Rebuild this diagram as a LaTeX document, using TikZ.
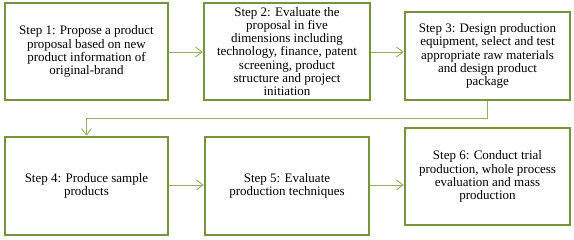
\documentclass[tikz,border=0pt]{standalone}
\usepackage{fontspec}
\setmainfont{Liberation Serif}
\usetikzlibrary{arrows.meta}
\definecolor{boxgreen}{HTML}{77933C}
\definecolor{linegreen}{HTML}{93B05F}
\tikzset{
  stepbox/.style={draw=boxgreen, line width=2.5pt, fill=white, align=center,
    inner sep=0pt, font=\fontsize{13}{13.2}\selectfont},
  conn/.style={draw=linegreen, line width=0.9pt,
    -{Straight Barb[length=6.5pt,width=10pt,line width=0.9pt]}},
}
\begin{document}
\begin{tikzpicture}[x=1pt,y=1pt]
\useasboundingbox (0,0) rectangle (574,-240);
\node[stepbox, minimum width=163pt, minimum height=97pt] (b1) at (86.5,-51.5)
  {Step 1: Propose a product\\proposal based on new\\product information of\\original-brand};
\node[stepbox, minimum width=166pt, minimum height=97pt] (b2) at (287,-51.5)
  {Step 2: Evaluate the\\proposal in five\\dimensions including\\technology, finance, patent\\screening, product\\structure and project\\initiation};
\node[stepbox, minimum width=165pt, minimum height=88pt] (b3) at (487.5,-56)
  {Step 3: Design production\\equipment, select and test\\appropriate raw materials\\and design product\\package};
\node[stepbox, minimum width=163pt, minimum height=98pt] (b4) at (86.5,-186)
  {Step 4: Produce sample\\products};
\node[stepbox, minimum width=164pt, minimum height=98pt] (b5) at (287,-186)
  {Step 5: Evaluate\\production techniques};
\node[stepbox, minimum width=165pt, minimum height=97pt] (b6) at (487.5,-176.5)
  {Step 6: Conduct trial\\production, whole process\\evaluation and mass\\production};
\coordinate (m1) at (487.5,-118);
\draw[conn] (b1.east |- 0,-52) -- (b2.west |- 0,-52);
\draw[conn] (b2.east |- 0,-52) -- (b3.west |- 0,-52);
\draw[conn] (b3.south) -- (m1) -- (b4.north |- m1) -- (b4.north);
\draw[conn] (b4.east |- 0,-185) -- (b5.west |- 0,-185);
\draw[conn] (b5.east |- 0,-185) -- (b6.west |- 0,-185);
\end{tikzpicture}
\end{document}
